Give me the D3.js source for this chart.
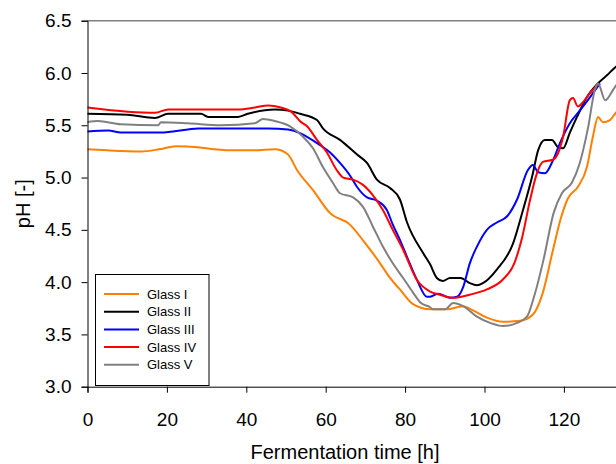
<!DOCTYPE html>
<html><head><meta charset="utf-8">
<script src="https://cdn.jsdelivr.net/npm/d3@7"></script>
<style>body{margin:0;background:#fff}svg{display:block}</style>
</head><body>
<script>
const seriesNames = ["Glass I","Glass II","Glass III","Glass IV","Glass V"];
const seriesColors = ["#ff8000","#000000","#0000ff","#ff0000","#808080"];
const xTicks = [0,20,40,60,80,100,120];
const yTicks = [3.0,3.5,4.0,4.5,5.0,5.5,6.0,6.5];

const glassI = [[0,5.27],[5,5.26],[13.5,5.25],[18,5.27],[22.3,5.30],[27.8,5.29],[32,5.27],[35.4,5.26],[42,5.26],[47.2,5.27],[50.5,5.22],[52.8,5.07],[56.8,4.88],[61.1,4.66],[66.1,4.55],[69.4,4.40],[73.7,4.18],[76.2,4.04],[78.7,3.93],[82.0,3.79],[86.3,3.74],[90.5,3.74],[94.6,3.77],[97.1,3.73],[100.6,3.66],[104.7,3.62],[109,3.63],[112.2,3.69],[114.7,3.90],[117.2,4.30],[119.3,4.62],[121,4.80],[123.5,4.91],[125.8,5.10],[127.3,5.39],[128.6,5.58],[129.8,5.53],[131.6,5.55],[133.1,5.62],[136,5.68]];
const glassII = [[0,5.61],[10,5.60],[17,5.57],[20.3,5.61],[28.6,5.61],[30.4,5.58],[37.9,5.58],[40.4,5.61],[47.2,5.65],[50.5,5.64],[53.5,5.61],[57.8,5.55],[59.3,5.47],[63.6,5.36],[67.9,5.22],[70.4,5.14],[72.9,4.98],[76.2,4.90],[78.7,4.79],[80.5,4.57],[84.5,4.28],[86.3,4.17],[88.0,4.04],[89.5,4.01],[91.3,4.04],[94,4.04],[96.3,3.99],[98.1,3.97],[99.6,3.99],[103.1,4.12],[107.2,4.37],[109.7,4.69],[112,5.01],[113.5,5.26],[115.2,5.36],[117,5.36],[118.5,5.29],[119.8,5.28],[121.5,5.43],[123.3,5.58],[125.8,5.77],[128.3,5.89],[130.9,5.98],[133.1,6.06],[136,6.12]];
const glassIII = [[0,5.44],[5.2,5.45],[8.4,5.43],[18.5,5.43],[25.3,5.46],[27.8,5.47],[45.5,5.47],[50.5,5.46],[53.8,5.42],[55.3,5.39],[58.6,5.31],[61.1,5.24],[63.6,5.14],[66.1,5.02],[67.9,4.91],[70.4,4.81],[72.9,4.78],[75.4,4.69],[76.9,4.55],[78.5,4.42],[80.5,4.24],[83.0,4.02],[85.5,3.86],[86.3,3.86],[88.3,3.89],[91.3,3.85],[93.1,3.86],[94.6,3.95],[96.3,4.18],[98.1,4.34],[100.6,4.50],[103.1,4.57],[105.7,4.63],[108.2,4.79],[110.9,5.07],[112.2,5.12],[113.5,5.05],[115.2,5.04],[117.2,5.16],[119,5.33],[121.5,5.52],[124,5.64],[126.6,5.77],[129.1,5.90]];
const glassIV = [[0,5.67],[10.2,5.63],[17,5.62],[20.3,5.65],[29.6,5.65],[37.9,5.65],[42.2,5.67],[45.5,5.69],[48.7,5.67],[51.3,5.63],[53.8,5.53],[55.3,5.49],[57.8,5.36],[60.3,5.24],[62.8,5.07],[64.4,5.00],[66.9,4.98],[69.4,4.93],[71.9,4.83],[74.4,4.69],[76.9,4.50],[79.5,4.31],[83.0,4.02],[86.3,3.91],[88.8,3.88],[92.1,3.85],[96.3,3.88],[100.6,3.93],[104.5,4.02],[107.5,4.18],[109.5,4.43],[111.5,4.79],[113.2,5.04],[114.7,5.15],[117.2,5.17],[118.5,5.23],[119.8,5.39],[121.5,5.74],[122.3,5.76],[123.5,5.68],[124.8,5.72],[126.6,5.81],[128.6,5.89]];
const glassV = [[0,5.53],[2.6,5.54],[8.4,5.51],[17.8,5.50],[18.5,5.53],[25.3,5.52],[33.6,5.50],[42.2,5.52],[44.2,5.56],[47.2,5.54],[51.0,5.49],[54.3,5.39],[56.8,5.28],[59.3,5.10],[61.8,4.95],[63.6,4.85],[66.9,4.81],[69.4,4.72],[71.9,4.53],[74.4,4.34],[76.9,4.18],[79.5,4.04],[82.0,3.90],[84.0,3.80],[86.3,3.76],[87.0,3.74],[90.1,3.74],[92.1,3.80],[94.6,3.77],[98.1,3.67],[101.4,3.61],[104.7,3.58],[108.2,3.61],[110.7,3.67],[112.4,3.85],[114.9,4.22],[117.4,4.66],[119.5,4.85],[122.0,4.95],[124.0,5.14],[126.1,5.48],[127.8,5.84],[128.6,5.90],[130.4,5.74],[132.1,5.82],[133.1,5.88],[136,5.95]];
const seriesData = [glassI, glassII, glassIII, glassIV, glassV];

const W = 616, H = 464;
const svg = d3.select("body").append("svg").attr("width", W).attr("height", H);
const x = d3.scaleLinear().domain([0,140]).range([87.5, 87.5 + 140*3.97]);
const y = d3.scaleLinear().domain([3.0,6.5]).range([386.7, 20.7]);
const font = "'Liberation Sans', Arial, sans-serif";

// top frame line
svg.append("line").attr("x1", x(0)).attr("x2", x(140)).attr("y1", y(6.5)).attr("y2", y(6.5))
  .attr("stroke", "#808080").attr("stroke-width", 1.5);

// lines
const line = d3.line().x(d => x(d[0])).y(d => y(d[1])).curve(d3.curveMonotoneX);
seriesData.forEach((s, i) => {
  svg.append("path").datum(s).attr("d", line).attr("fill", "none")
    .attr("stroke", seriesColors[i]).attr("stroke-width", 2).attr("stroke-linejoin", "round");
});

// axes
const xAxis = svg.append("g").attr("transform", `translate(0,${y(3.0)})`)
  .call(d3.axisBottom(x).tickValues(xTicks).tickSize(6).tickPadding(20).tickFormat(d3.format("d")));
const yAxis = svg.append("g").attr("transform", `translate(${x(0)},0)`)
  .call(d3.axisLeft(y).tickValues(yTicks).tickSize(6).tickPadding(10).tickFormat(d3.format(".1f")));
[xAxis, yAxis].forEach(g => {
  g.selectAll("text").attr("font-family", font).attr("font-size", 19).attr("fill", "#000");
  g.selectAll("line,path").attr("stroke", "#000").attr("stroke-width", 1);
});
xAxis.selectAll("text").attr("dy", "0.71em");

// axis titles
svg.append("text").attr("x", 345).attr("y", 459).attr("text-anchor", "middle")
  .attr("font-family", font).attr("font-size", 20).text("Fermentation time [h]");
svg.append("text").attr("transform", `translate(30,${(y(3)+y(6.5))/2}) rotate(-90)`)
  .attr("text-anchor", "middle").attr("font-family", font).attr("font-size", 20).text("pH [-]");

// legend
const lg = svg.append("g");
lg.append("rect").attr("x", 95.5).attr("y", 274.5).attr("width", 113.5).attr("height", 111)
  .attr("fill", "#fff").attr("stroke", "#000").attr("stroke-width", 1);
seriesNames.forEach((n, i) => {
  const yy = 294 + i * 17.7;
  lg.append("line").attr("x1", 104).attr("x2", 139).attr("y1", yy).attr("y2", yy)
    .attr("stroke", seriesColors[i]).attr("stroke-width", 2);
  lg.append("text").attr("x", 147).attr("y", yy).attr("dy", "0.35em")
    .attr("font-family", font).attr("font-size", 13).text(n);
});
</script>
</body></html>
